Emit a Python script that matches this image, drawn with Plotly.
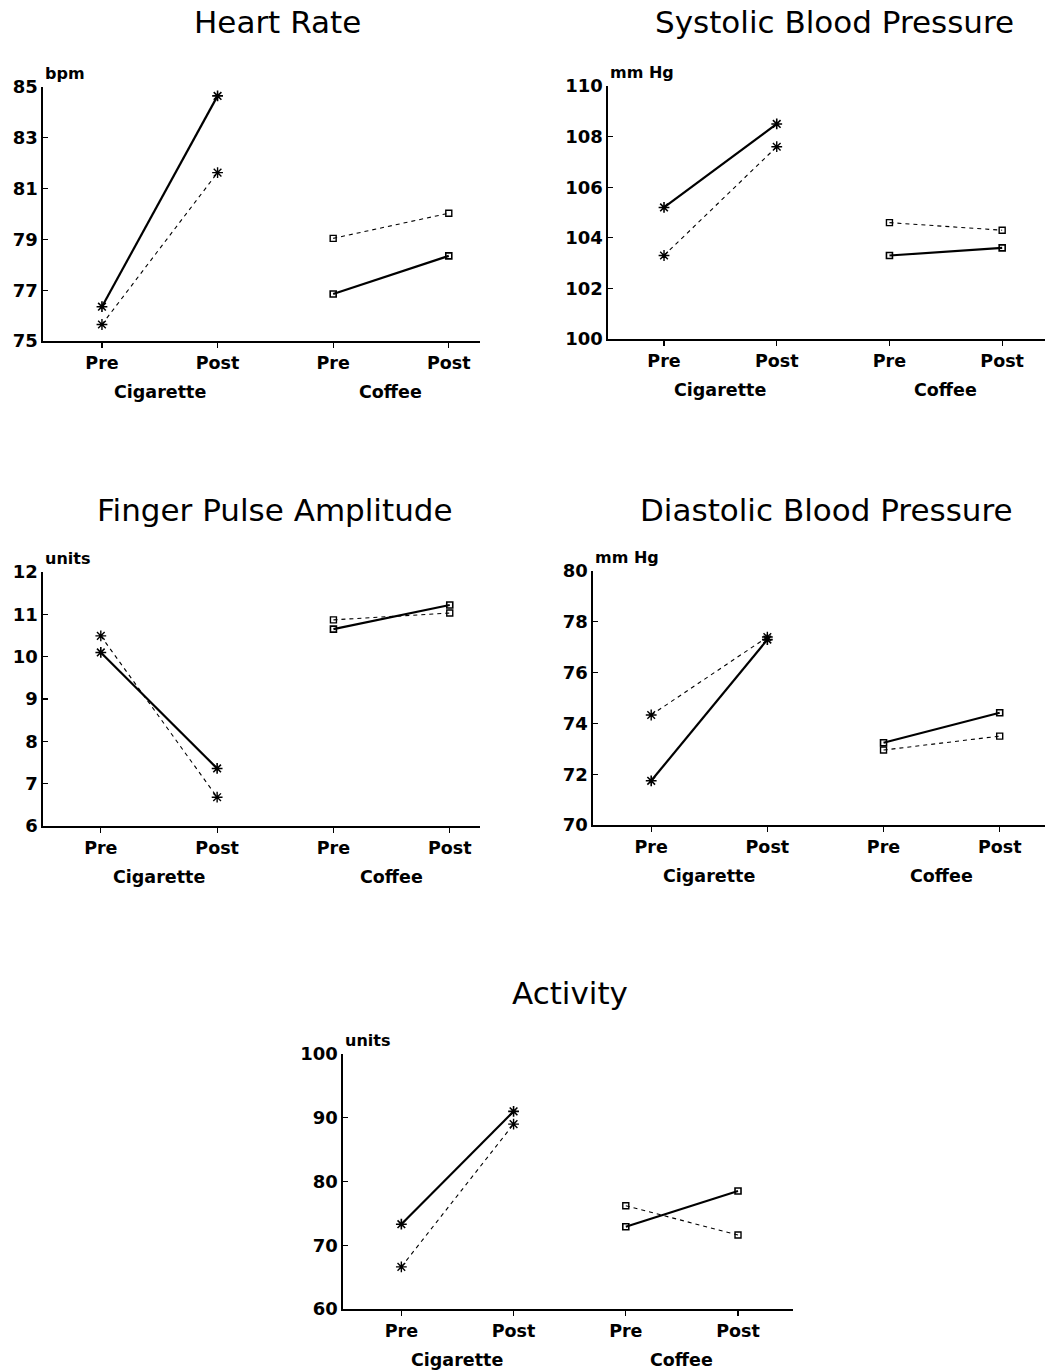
import plotly.graph_objects as go

W, H = 1047, 1371

conditions = ["Cigarette", "Coffee"]
phases = ["Pre", "Post"]

titles = ["Heart Rate", "Systolic Blood Pressure", "Finger Pulse Amplitude",
          "Diastolic Blood Pressure", "Activity"]
units = ["bpm", "mm Hg", "units", "mm Hg", "units"]
y_ranges = [(75, 85), (100, 110), (6, 12), (70, 80), (60, 100)]
y_ticks = [[75, 77, 79, 81, 83, 85],
           [100, 102, 104, 106, 108, 110],
           [6, 7, 8, 9, 10, 11, 12],
           [70, 72, 74, 76, 78, 80],
           [60, 70, 80, 90, 100]]

# values: [Cigarette Pre, Cigarette Post, Coffee Pre, Coffee Post]
solid_hr = [76.35, 84.65, 76.85, 78.35]
dashed_hr = [75.65, 81.63, 79.04, 80.03]
solid_sbp = [105.2, 108.5, 103.3, 103.6]
dashed_sbp = [103.3, 107.6, 104.6, 104.3]
solid_fpa = [10.10, 7.36, 10.65, 11.22]
dashed_fpa = [10.49, 6.68, 10.87, 11.03]
solid_dbp = [71.74, 77.3, 73.24, 74.42]
dashed_dbp = [74.33, 77.4, 72.95, 73.5]
solid_act = [73.3, 91.0, 72.9, 78.5]
dashed_act = [66.6, 89.0, 76.2, 71.6]

solid_series = [solid_hr, solid_sbp, solid_fpa, solid_dbp, solid_act]
dashed_series = [dashed_hr, dashed_sbp, dashed_fpa, dashed_dbp, dashed_act]

# layout: plot-area pixel boxes (left, right, top, bottom) and x ranges
boxes = [(43, 480, 87, 341), (608, 1045, 86, 339), (43, 480, 572, 826),
         (593, 1045, 571, 825), (343, 793, 1054, 1309)]
x_ranges = [(0.49, 4.27), (0.503, 4.38), (0.503, 4.26), (0.499, 4.39), (0.48, 4.49)]
title_pos = [(277, 22), (834, 22), (275, 510), (826, 510), (570, 993)]

FONT = "DejaVu Sans, Liberation Sans, Arial, sans-serif"

fig = go.Figure()

x_labels = [p for c in conditions for p in phases]
x_pos = list(range(1, len(x_labels) + 1))

annotations = []
for i in range(5):
    ax = "" if i == 0 else str(i + 1)
    xa, ya = "x" + ax, "y" + ax
    for ci, cond in enumerate(conditions):
        xs = x_pos[ci * 2: ci * 2 + 2]
        sym = "asterisk-open" if cond == "Cigarette" else "square-open"
        msize = 9 if cond == "Cigarette" else 6
        fig.add_trace(go.Scatter(
            x=xs, y=dashed_series[i][ci * 2: ci * 2 + 2], mode="lines+markers",
            line=dict(color="black", width=1.1, dash="4px,4px"),
            marker=dict(symbol=sym, size=msize, color="black",
                        line=dict(color="black", width=1.4)),
            xaxis=xa, yaxis=ya, showlegend=False, cliponaxis=False,
            hoverinfo="skip"))
        fig.add_trace(go.Scatter(
            x=xs, y=solid_series[i][ci * 2: ci * 2 + 2], mode="lines+markers",
            line=dict(color="black", width=2.2),
            marker=dict(symbol=sym, size=msize, color="black",
                        line=dict(color="black", width=1.6)),
            xaxis=xa, yaxis=ya, showlegend=False, cliponaxis=False,
            hoverinfo="skip"))
        annotations.append(dict(
            text="<b>%s</b>" % cond, x=sum(xs) / 2, xref=xa,
            y=0, yref=ya + " domain", yanchor="top", yshift=-39,
            showarrow=False, font=dict(family=FONT, size=17.5, color="black")))
    l, r, t, b = boxes[i]
    fig.update_layout(**{
        "xaxis" + ax: dict(
            domain=[l / W, r / W], range=list(x_ranges[i]), anchor=ya,
            automargin=False,
            tickvals=x_pos, ticktext=["<b>%s</b>" % s for s in x_labels],
            ticks="outside", ticklen=5, tickwidth=1.2, tickcolor="black",
            showline=True, linecolor="black", linewidth=1.6,
            showgrid=False, zeroline=False,
            tickfont=dict(family=FONT, size=17.5, color="black")),
        "yaxis" + ax: dict(
            domain=[1 - b / H, 1 - t / H], range=list(y_ranges[i]), anchor=xa,
            automargin=False,
            tickvals=y_ticks[i], ticktext=["<b>%d</b>" % v for v in y_ticks[i]],
            ticks="inside", ticklen=5, tickwidth=1.2, tickcolor="black",
            showline=True, linecolor="black", linewidth=1.6,
            showgrid=False, zeroline=False,
            tickfont=dict(family=FONT, size=18, color="black")),
    })
    annotations.append(dict(
        text="<b>%s</b>" % units[i], x=0, xref=xa + " domain", xanchor="left",
        y=1, yref=ya + " domain", yanchor="bottom", yshift=2,
        showarrow=False, font=dict(family=FONT, size=16, color="black")))
    tx, ty = title_pos[i]
    annotations.append(dict(
        text=titles[i], x=tx / W, xref="paper", y=1 - ty / H, yref="paper",
        xanchor="center", yanchor="middle", showarrow=False,
        font=dict(family=FONT, size=31, color="black")))

fig.update_layout(
    width=W, height=H, margin=dict(l=0, r=0, t=0, b=0, autoexpand=False),
    paper_bgcolor="white", plot_bgcolor="white",
    annotations=annotations, showlegend=False, hovermode=False)

fig.write_html(
    "out.html",
    config={"displayModeBar": False, "staticPlot": True},
    post_script=(
        "document.body.style.margin='0';"
        "var d=document.getElementsByClassName('plotly-graph-div')[0];"
        "d.style.position='absolute';d.style.left='0px';d.style.top='0px';"
    ))
